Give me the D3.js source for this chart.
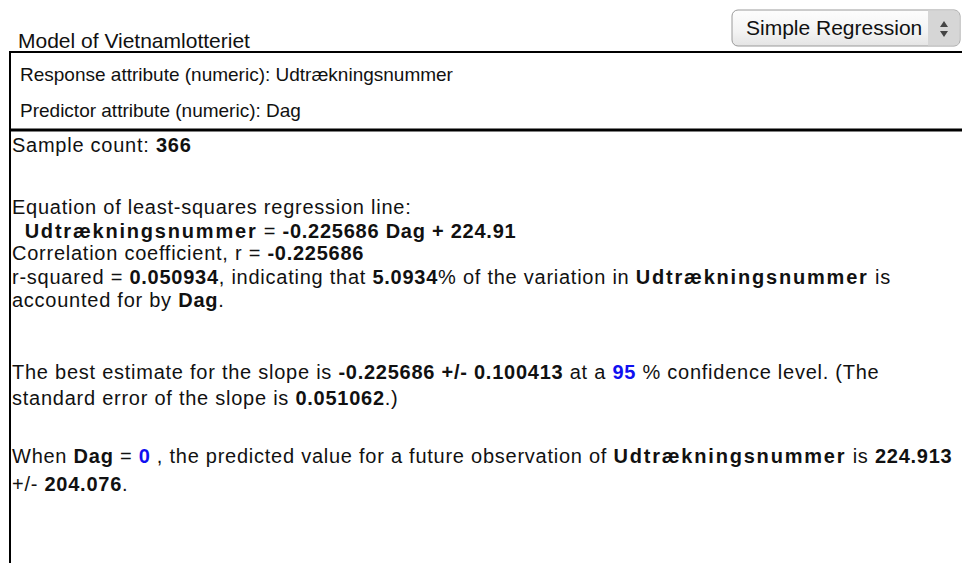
<!DOCTYPE html>
<html>
<head>
<meta charset="utf-8">
<script src="https://cdn.jsdelivr.net/npm/d3@7"></script>
<style>
	body { margin: 0; background: #fff; }
	svg { display: block; font-family: "Liberation Sans", Arial, sans-serif; }
	.plain { font-weight: normal; fill: #111; }
	.results .plain, .results .bold, .results .blue { letter-spacing: 0.75px; }
	.bold { font-weight: bold; fill: #111; }
	.attr { font-weight: bold; fill: #111; letter-spacing: 1.8px; }
	.blue { font-weight: bold; fill: #1010f0; }
</style>
</head>
<body>
<div id="chart"></div>
<script>
	// model values
	var modelName = 'Vietnamlotteriet';
	var modelTypes = ['Simple Regression'];
	var attrRoles = ['Response attribute (numeric)', 'Predictor attribute (numeric)'];
	var attrNames = ['Udtrækningsnummer', 'Dag'];
	var statNames = ['count', 'slope', 'intercept', 'r', 'rSquared', 'pct', 'slopeCI', 'confLevel', 'slopeSE', 'predX', 'predY', 'predPM'];
	var statValues = ['366', '-0.225686', '224.91', '-0.225686', '0.050934', '5.0934', '0.100413', '95', '0.051062', '0', '224.913', '204.076'];

	var stat = {};
	statNames.forEach(function(n, i) { stat[n] = statValues[i]; });

	var resp = attrNames[0], pred = attrNames[1];

	// each line is a list of [text, class]
	var lines = [
		[['Sample count: ', 'plain'], [stat.count, 'bold']],
		[['Equation of least-squares regression line:', 'plain']],
		[['  ', 'plain'], [resp, 'attr'], [' = ', 'plain'], [stat.slope + ' ' + pred + ' + ' + stat.intercept, 'bold']],
		[['Correlation coefficient, r = ', 'plain'], [stat.r, 'bold']],
		[['r-squared = ', 'plain'], [stat.rSquared, 'bold'], [', indicating that ', 'plain'], [stat.pct, 'bold'], ['% of the variation in ', 'plain'], [resp, 'attr'], [' is', 'plain']],
		[['accounted for by ', 'plain'], [pred, 'bold'], ['.', 'plain']],
		[['The best estimate for the slope is ', 'plain'], [stat.slope + ' +/- ' + stat.slopeCI, 'bold'], [' at a ', 'plain'], [stat.confLevel, 'blue'], [' % confidence level. (The', 'plain']],
		[['standard error of the slope is ', 'plain'], [stat.slopeSE, 'bold'], ['.)', 'plain']],
		[['When ', 'plain'], [pred, 'bold'], [' = ', 'plain'], [stat.predX, 'blue'], [' , the predicted value for a future observation of ', 'plain'], [resp, 'attr'], [' is ', 'plain'], [stat.predY, 'bold']],
		[['+/- ', 'plain'], [stat.predPM, 'bold'], ['.', 'plain']]
	];

	// layout: baseline of each results line
	var lineBaselines = [152, 214, 238, 260, 284, 307, 379, 405, 463, 491];

	var width = 962,
		height = 563;

	var svg = d3.select('#chart')
		.append('svg')
		.attr('width', width)
		.attr('height', height);

	var defs = svg.append('defs');
	var grad = defs.append('linearGradient')
		.attr('id', 'btn-grad')
		.attr('x1', 0).attr('y1', 0).attr('x2', 0).attr('y2', 1);
	grad.append('stop').attr('offset', '0%').attr('stop-color', '#fdfdfd');
	grad.append('stop').attr('offset', '60%').attr('stop-color', '#f3f3f3');
	grad.append('stop').attr('offset', '100%').attr('stop-color', '#e4e4e4');

	// header
	svg.append('text')
		.attr('class', 'plain')
		.attr('x', 18)
		.attr('y', 48)
		.style('font-size', '21px')
		.text('Model of ' + modelName);

	// model type dropdown
	var btn = svg.append('g').attr('transform', 'translate(732 10)');
	btn.append('rect')
		.attr('width', 228)
		.attr('height', 36)
		.attr('rx', 6)
		.attr('fill', 'url(#btn-grad)')
		.attr('stroke', '#9a9a9a');
	btn.append('path')
		.attr('d', 'M196 0.5 H222 Q227.5 0.5 227.5 6 V30 Q227.5 35.5 222 35.5 H196 Z')
		.attr('fill', '#d6d6d6');
	btn.append('path')
		.attr('d', 'M212 11 l-4 6 h8 Z M212 27 l-4 -6 h8 Z')
		.attr('fill', '#444');
	btn.append('text')
		.attr('class', 'plain')
		.attr('x', 14)
		.attr('y', 25)
		.style('font-size', '21px')
		.text(modelTypes[0]);

	// attribute box
	var rowY = d3.scalePoint()
		.domain(attrRoles)
		.range([81, 117]);

	svg.append('g')
		.style('font-size', '19px')
		.selectAll('text')
		.data(attrRoles)
		.enter()
		.append('text')
		.attr('class', 'plain')
		.attr('x', 20)
		.attr('y', function(d) { return rowY(d); })
		.text(function(d, i) { return d + ': ' + attrNames[i]; });

	svg.append('path')
		.attr('d', 'M' + width + ' 52 H10 V130')
		.attr('fill', 'none')
		.attr('stroke', '#000')
		.attr('stroke-width', 2);
	svg.append('path')
		.attr('d', 'M9 130 H' + width)
		.attr('stroke', '#000')
		.attr('stroke-width', 3);
	svg.append('path')
		.attr('d', 'M10 130 V' + height)
		.attr('stroke', '#000')
		.attr('stroke-width', 2);

	// results text
	var texts = svg.append('g')
		.attr('class', 'results')
		.style('font-size', '20px')
		.selectAll('text')
		.data(lines)
		.enter()
		.append('text')
		.attr('x', 12)
		.attr('y', function(d, i) { return lineBaselines[i]; })
		.attr('xml:space', 'preserve')
		.style('white-space', 'pre');

	texts.each(function(segs) {
		d3.select(this)
			.selectAll('tspan')
			.data(segs)
			.enter()
			.append('tspan')
			.attr('class', function(d) { return d[1]; })
			.text(function(d) { return d[0]; });
	});
</script>
</body>
</html>
